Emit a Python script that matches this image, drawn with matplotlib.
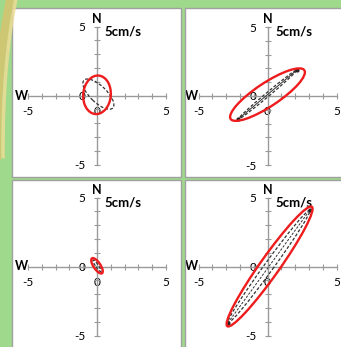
import matplotlib.pyplot as plt
from matplotlib.patches import Ellipse, Rectangle, Arc
import numpy as np

plt.rcParams['font.family'] = ['Lato', 'DejaVu Sans']

# ellipse parameters per panel (TL, TR, BL, BR), units cm/s
red_cx = [0.0, 0.0, 0.0, 0.15]
red_cy = [0.05, 0.1, 0.05, 0.0]
red_a = [1.4, 3.2, 0.65, 5.3]      # semi-major
red_b = [1.0, 0.85, 0.25, 0.7]     # semi-minor
red_ang = [85, 33.5, -56, 54.7]    # degrees

dash_cx = [0.1, 0.0, 0.0, 0.1]
dash_cy = [0.1, 0.1, 0.05, 0.0]
dash_a = [1.45, 2.8, 0.5, 5.05]
dash_b = [0.6, 0.14, 0.1, 0.33]
dash_ang = [-44, 40, -56, 54]
# major axis line inside the dashed ellipse: None, solid or dashed
axis_style = [None, '-', None, '--']

tick_vals = list(range(-5, 6))
tick_labels = ['-5', '', '', '', '', '0', '', '', '', '', '5']
scale_label = '5cm/s'

W, H = 341, 347
fig = plt.figure(figsize=(W / 100, H / 100), dpi=100)
fig.patch.set_facecolor('#9fd98c')

# yellowish arc on the left edge
fig.patches.append(Arc((45, 200), 96, 430, theta1=100, theta2=195,
                       transform=None, color='#d6c470', lw=6, alpha=0.85))
fig.patches.append(Arc((45, 200), 84, 410, theta1=100, theta2=195,
                       transform=None, color='#eedc96', lw=2.5, alpha=0.85))

s = 13.8  # pixels per unit
# panel boxes (x0, y0, x1, y1) in pixels from top-left, and origin pixel
panels = [((12, 8, 180.5, 176.5), (97, 95.5)),
          ((184.5, 8, 343, 176.5), (267.5, 96)),
          ((12, 179.5, 180.5, 349), (97, 266.5)),
          ((184.5, 179.5, 343, 349), (267.5, 266.5))]

for i, ((x0, y0, x1, y1), (ox, oy)) in enumerate(panels):
    ax = fig.add_axes([x0 / W, 1 - y1 / H, (x1 - x0) / W, (y1 - y0) / H])
    ax.set_facecolor('white')
    ax.set_xlim((x0 - ox) / s, (x1 - ox) / s)
    ax.set_ylim((oy - y1) / s, (oy - y0) / s)

    for side in ['top', 'right']:
        ax.spines[side].set_visible(False)
    for side in ['left', 'bottom']:
        ax.spines[side].set_position(('data', 0))
        ax.spines[side].set_bounds(-5, 5)
        ax.spines[side].set_color('#9a9a9a')
        ax.spines[side].set_linewidth(1)
    ax.set_xticks(tick_vals)
    ax.set_xticklabels(tick_labels)
    ax.set_yticks(tick_vals)
    ax.set_yticklabels(tick_labels)
    ax.tick_params(axis='x', direction='inout', length=4.5, width=0.8,
                   color='#9a9a9a', labelsize=8.5, pad=5)
    ax.tick_params(axis='y', direction='inout', length=4.5, width=0.8,
                   color='#9a9a9a', labelsize=8.5, pad=6)

    ax.add_patch(Rectangle((0, 0), 1, 1, transform=ax.transAxes, fill=False,
                           ec='#a0a0a0', lw=1, clip_on=False, zorder=5))

    ax.add_patch(Ellipse((dash_cx[i], dash_cy[i]), 2 * dash_a[i], 2 * dash_b[i],
                         angle=dash_ang[i], fill=False, ec='#333333', lw=0.9,
                         ls=(0, (2.5, 1.5)), zorder=3))
    if axis_style[i]:
        t = np.deg2rad(dash_ang[i])
        dx, dy = dash_a[i] * np.cos(t), dash_a[i] * np.sin(t)
        ls = '-' if axis_style[i] == '-' else (0, (2.5, 1.5))
        ax.plot([dash_cx[i] - dx, dash_cx[i] + dx],
                [dash_cy[i] - dy, dash_cy[i] + dy],
                color='#333333', lw=0.7, ls=ls, zorder=3)
        ax.plot([dash_cx[i] - dx, dash_cx[i] + dx],
                [dash_cy[i] - dy, dash_cy[i] + dy],
                ls='none', marker='o', ms=2, color='#222222', zorder=3)
    ax.add_patch(Ellipse((red_cx[i], red_cy[i]), 2 * red_a[i], 2 * red_b[i],
                         angle=red_ang[i], fill=False, ec='#ee1c1c', lw=1.7,
                         zorder=4))

    ax.text(0, 5.55, 'N', ha='center', va='center', fontsize=9,
            fontweight='bold')
    ax.text(-5.5, 0, 'W', ha='center', va='center', fontsize=9,
            fontweight='bold')
    ax.text(0.55, 4.65, scale_label, ha='left', va='center', fontsize=9.5,
            fontweight='bold')

fig.savefig('out.png', dpi=100, facecolor=fig.get_facecolor())
